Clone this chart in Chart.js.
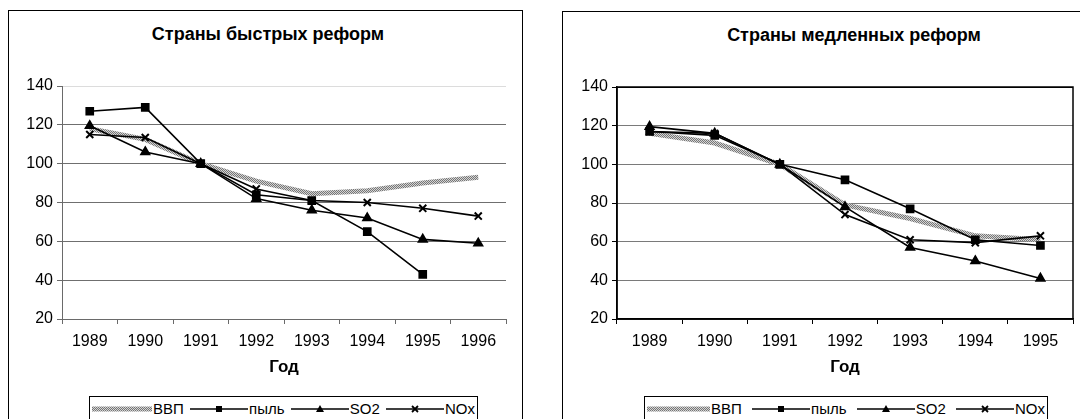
<!DOCTYPE html>
<html>
<head>
<meta charset="utf-8">
<script src="https://cdn.jsdelivr.net/npm/chart.js@4.4.1/dist/chart.umd.min.js"></script>
<style>
  body { margin: 0; width: 1080px; height: 419px; overflow: hidden; background: #fff; position: relative;
         font-family: "Liberation Sans", Arial, sans-serif; }
  .box { position: absolute; box-sizing: border-box; border: 1px solid #000; background: #fff; }
  .title { position: absolute; font-weight: bold; font-size: 18px; line-height: 20px; white-space: nowrap;
           transform: translateX(-50%); color: #000; }
  canvas.chart { position: absolute; }
  .legend { position: absolute; box-sizing: border-box; border: 1px solid #000; background: #fff; height: 26px;
            display: flex; justify-content: space-between; align-items: flex-start; padding: 3px 2px 0 2px;
            font-size: 15px; line-height: 17px; color: #000; }
  .legend .item { display: flex; align-items: center; white-space: nowrap; }
  .legend canvas { display: block; }
</style>
</head>
<body>
<div class="box" style="left:8px; top:10px; width:515px; height:430px;"></div>
<div class="box" style="left:562px; top:11px; width:600px; height:430px;"></div>

<div class="title" style="left:268px; top:24px;">Страны быстрых реформ</div>
<div class="title" style="left:854px; top:25px;">Страны медленных реформ</div>

<canvas id="fast" class="chart" width="512" height="408" style="left:9px; top:11px;"></canvas>
<canvas id="slow" class="chart" width="517" height="408" style="left:563px; top:11px;"></canvas>

<div id="legendFast" class="legend" style="left:89px; top:396px; width:389px;"></div>
<div id="legendSlow" class="legend" style="left:644px; top:396px; width:404px;"></div>

<script>
// Страны быстрых реформ
const fastYears = ["1989", "1990", "1991", "1992", "1993", "1994", "1995", "1996"];
const fastGdp  = [118, 112.5, 100, 91, 84.5, 86, 90, 93];
const fastDust = [127, 129, 100, 84, 81, 65, 43, null];
const fastSO2  = [119.5, 106, 100, 82, 76, 72, 61, 59];
const fastNOx  = [115, 113.5, 100, 87, 81, 80, 77, 73];

// Страны медленных реформ
const slowYears = ["1989", "1990", "1991", "1992", "1993", "1994", "1995"];
const slowGdp  = [116, 111, 100, 79, 72, 63, 61];
const slowDust = [117, 115, 100, 92, 77, 61, 58];
const slowSO2  = [119.5, 116, 100, 78, 57, 50, 41];
const slowNOx  = [117, 116, 100, 74, 61, 59.5, 63];

const seriesNames = ["ВВП", "пыль", "SO2", "NOx"];
const yMin = 20, yMax = 140, yStep = 20;
const axisTitle = "Год";

const FONT = "'Liberation Sans', Arial, sans-serif";

// gray checkered fill used for the ВВП line
function gdpPattern(ctx) {
  const p = document.createElement("canvas");
  p.width = 2; p.height = 2;
  const c = p.getContext("2d");
  c.fillStyle = "#d4d4d4"; c.fillRect(0, 0, 2, 2);
  c.fillStyle = "#767676"; c.fillRect(0, 0, 1, 1); c.fillRect(1, 1, 1, 1);
  return ctx.createPattern(p, "repeat");
}

const plotFrame = {
  id: "plotFrame",
  beforeDatasetsDraw(chart) {
    const { ctx, chartArea: a } = chart;
    ctx.save();
    ctx.strokeStyle = "#000";
    ctx.lineWidth = 1.5;
    ctx.strokeRect(a.left, a.top, a.right - a.left, a.bottom - a.top);
    ctx.restore();
  }
};

function buildChart(id, years, gdp, dust, so2, nox, look) {
  const ctx = document.getElementById(id).getContext("2d");
  const black = {
    borderColor: "#000", backgroundColor: "#000",
    pointBackgroundColor: "#000", pointBorderColor: "#000",
    borderWidth: 1.6, tension: 0, fill: false, order: 1
  };
  return new Chart(ctx, {
    type: "line",
    data: {
      labels: years,
      datasets: [
        { label: seriesNames[0], data: gdp, borderColor: gdpPattern(ctx), borderWidth: 5, pointRadius: 0, order: 2 },
        { ...black, label: seriesNames[1], data: dust, pointStyle: "rect", pointRadius: 5 },
        { ...black, label: seriesNames[2], data: so2, pointStyle: "triangle", pointRadius: 5 },
        { ...black, label: seriesNames[3], data: nox, pointStyle: "crossRot", pointRadius: 5, pointBorderWidth: 2 }
      ]
    },
    options: {
      responsive: false,
      animation: false,
      events: [],
      layout: { padding: look.padding },
      plugins: { legend: { display: false }, tooltip: { enabled: false }, title: { display: false } },
      scales: {
        x: {
          offset: true,
          grid: { offset: true, drawOnChartArea: false, tickLength: 5, color: look.axis },
          border: { color: look.axis, width: look.axisWidth },
          ticks: { color: "#000", font: { family: FONT, size: 16 }, padding: 8, maxRotation: 0, autoSkip: false },
          title: { display: true, text: axisTitle, color: "#000",
                   font: { family: FONT, size: 17, weight: "bold" }, padding: { top: 0, bottom: 41 } },
          afterFit(s) { s.height = 100; }
        },
        y: {
          min: yMin, max: yMax,
          ticks: { stepSize: yStep, color: "#000", font: { family: FONT, size: 16 }, padding: 4 },
          grid: {
            color: c => (c.tick && c.tick.value === yMax) ? look.topGrid : look.grid,
            tickColor: look.axis, tickLength: 5
          },
          border: { color: look.axis, width: look.axisWidth },
          afterFit(s) { s.width = look.yWidth; }
        }
      }
    },
    plugins: look.frame ? [plotFrame] : []
  });
}

buildChart("fast", fastYears, fastGdp, fastDust, fastSO2, fastNOx, {
  padding: { top: 75, right: 15, bottom: 0, left: 0 }, yWidth: 53,
  axis: "#6a6a6a", axisWidth: 1, grid: "#6f6f6f", topGrid: "#dcdcdc", frame: false
});
buildChart("slow", slowYears, slowGdp, slowDust, slowSO2, slowNOx, {
  padding: { top: 76, right: 6, bottom: 0, left: 0 }, yWidth: 54,
  axis: "#000", axisWidth: 1.5, grid: "#7a7a7a", topGrid: "#000", frame: true
});

// legend: line samples with the same markers
function drawSample(cv, i) {
  const c = cv.getContext("2d");
  const w = cv.width, y = cv.height / 2;
  if (i === 0) {
    c.fillStyle = gdpPattern(c);
    c.fillRect(0, y - 2.5, w, 5);
    return;
  }
  c.strokeStyle = "#000"; c.fillStyle = "#000"; c.lineWidth = 1.3;
  c.beginPath(); c.moveTo(0, y); c.lineTo(w, y); c.stroke();
  const x = w / 2;
  if (i === 1) c.fillRect(x - 3, y - 3, 6, 6);
  if (i === 2) { c.beginPath(); c.moveTo(x, y - 4); c.lineTo(x + 4, y + 3); c.lineTo(x - 4, y + 3); c.closePath(); c.fill(); }
  if (i === 3) {
    c.lineWidth = 1.8; c.beginPath();
    c.moveTo(x - 3, y - 3); c.lineTo(x + 3, y + 3); c.moveTo(x + 3, y - 3); c.lineTo(x - 3, y + 3); c.stroke();
  }
}

function buildLegend(id, gdpWidth) {
  const el = document.getElementById(id);
  seriesNames.forEach((name, i) => {
    const item = document.createElement("span");
    item.className = "item";
    const cv = document.createElement("canvas");
    cv.width = i === 0 ? gdpWidth : 58;
    cv.height = 16;
    cv.style.marginRight = "1px";
    drawSample(cv, i);
    const t = document.createElement("span");
    t.textContent = name;
    item.append(cv, t);
    el.append(item);
  });
}
buildLegend("legendFast", 60);
buildLegend("legendSlow", 63);
</script>
</body>
</html>
